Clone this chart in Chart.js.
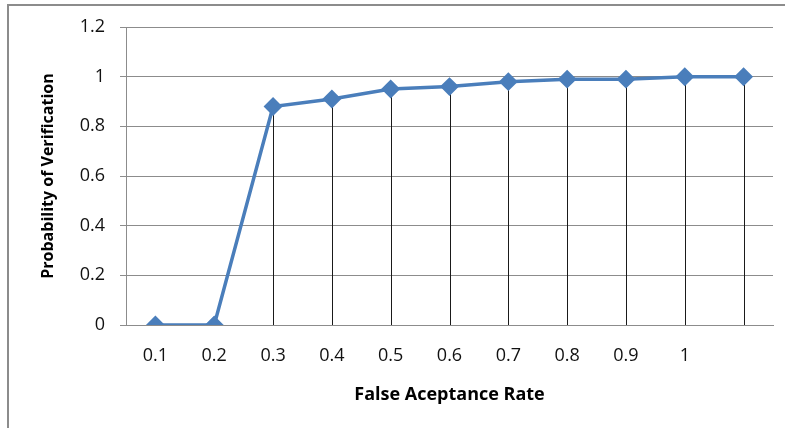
<!DOCTYPE html>
<html>
<head>
<meta charset="utf-8">
<script src="https://cdn.jsdelivr.net/npm/chart.js@4.4.0/dist/chart.umd.min.js"></script>
<style>
  html, body { margin: 0; padding: 0; background: #fff; }
  #wrap { position: relative; width: 785px; height: 428px; overflow: hidden; }
  #frame { position: absolute; left: 7px; top: 4px; width: 800px; height: 440px;
           border-top: 2px solid #8c8c8c; border-left: 2px solid #8c8c8c; }
  canvas { position: absolute; left: 0; top: 0; }
</style>
</head>
<body>
<div id="wrap">
  <div id="frame"></div>
  <canvas id="chart" width="785" height="428"></canvas>
</div>
<script>
const categories = ["0.1", "0.2", "0.3", "0.4", "0.5", "0.6", "0.7", "0.8", "0.9", "1", ""];
const verification = [0, 0, 0.88, 0.91, 0.95, 0.96, 0.98, 0.99, 0.99, 1, 1];
const yTicks = [0, 0.2, 0.4, 0.6, 0.8, 1, 1.2];

const fontFamily = "'Open Sans', sans-serif";

// Excel style drop lines from each point down to the category axis
const dropLines = {
  id: "dropLines",
  beforeDatasetsDraw(chart) {
    const ctx = chart.ctx;
    const meta = chart.getDatasetMeta(0);
    const yBase = chart.scales.y.getPixelForValue(0);
    ctx.save();
    ctx.strokeStyle = "#1a1a1a";
    ctx.lineWidth = 1;
    meta.data.forEach((pt) => {
      const x = Math.round(pt.x) + 0.5;
      ctx.beginPath();
      ctx.moveTo(x, pt.y);
      ctx.lineTo(x, yBase);
      ctx.stroke();
    });
    ctx.restore();
  },
};

new Chart(document.getElementById("chart"), {
  type: "line",
  data: {
    labels: categories,
    datasets: [
      {
        label: "Probability of Verification",
        data: verification,
        borderColor: "#4a7ebb",
        backgroundColor: "#4a7ebb",
        borderWidth: 3.5,
        pointStyle: "rectRot",
        pointRadius: 7,
        pointBackgroundColor: "#4a7ebb",
        pointBorderColor: "#4a7ebb",
        tension: 0,
      },
    ],
  },
  options: {
    responsive: false,
    animation: false,
    devicePixelRatio: 1,
    layout: { padding: { left: 39, right: 12, top: 27, bottom: 22 } },
    plugins: {
      legend: { display: false },
      tooltip: { enabled: false },
    },
    scales: {
      x: {
        offset: true,
        grid: { display: false, drawTicks: false },
        border: { display: true, color: "#8c8c8c", width: 1 },
        ticks: { color: "#111", font: { family: fontFamily, size: 18 }, padding: 20, autoSkip: false, maxRotation: 0 },
        title: {
          display: true,
          text: "False Aceptance Rate",
          color: "#000",
          font: { family: fontFamily, size: 18, weight: "bold" },
          padding: { top: 10, bottom: 0 },
        },
        afterFit(scale) { scale.height = 81; },
      },
      y: {
        min: 0,
        max: 1.2,
        afterBuildTicks(scale) { scale.ticks = yTicks.map((v) => ({ value: v })); },
        grid: { color: "#8c8c8c", tickLength: 6, tickColor: "#8c8c8c" },
        border: { display: true, color: "#8c8c8c", width: 1 },
        ticks: {
          color: "#111",
          font: { family: fontFamily, size: 18 },
          padding: 15,
          callback: (v) => String(Math.round(v * 10) / 10),
        },
        title: {
          display: true,
          text: "Probability of Verification",
          color: "#000",
          font: { family: fontFamily, size: 16, weight: "bold" },
          padding: { top: 0, bottom: 0 },
        },
        afterFit(scale) { scale.width = 87; },
      },
    },
  },
  plugins: [dropLines],
});
</script>
</body>
</html>
